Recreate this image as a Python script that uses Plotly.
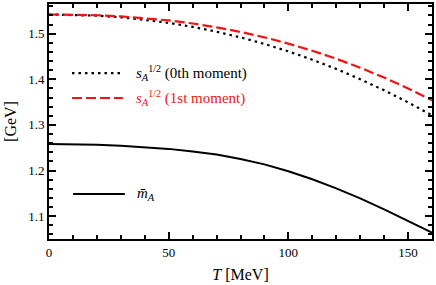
import plotly.graph_objects as go

# Data
T = [0, 10, 20, 30, 40, 50, 60, 70, 80, 90, 100, 110, 120, 130, 140, 150, 160]
s0 = [1.542, 1.5414, 1.5394, 1.5359, 1.5306, 1.5237, 1.5149, 1.5043, 1.4919, 1.4775,
      1.4612, 1.4429, 1.4226, 1.4003, 1.3759, 1.3495, 1.321]
s1 = [1.542, 1.5417, 1.5404, 1.5380, 1.5343, 1.5290, 1.5223, 1.5139, 1.5038, 1.4920,
      1.4782, 1.4626, 1.4450, 1.4254, 1.4037, 1.3799, 1.354]
mA = [1.258, 1.2577, 1.2565, 1.2545, 1.2515, 1.2475, 1.242, 1.235, 1.2255, 1.2135,
      1.1985, 1.181, 1.161, 1.139, 1.115, 1.090, 1.064]

names = ["<i>s</i><sub><i>A</i></sub><sup><span style='font-size:10px'>1/2</span></sup> (0th moment)",
         "<i>s</i><sub><i>A</i></sub><sup><span style='font-size:10px'>1/2</span></sup> (1st moment)",
         "<i>m\u0304</i><sub><i>A</i></sub>"]
colors = ["black", "#f01414", "black"]
dashes = ["2.5px,4px", "10px,4px", "solid"]
widths = [2.2, 2.2, 2.0]
series = [s0, s1, mA]

FONT = "Liberation Serif, Times New Roman, DejaVu Serif, serif"

fig = go.Figure()
for ys, nm, c, d, w in zip(series, names, colors, dashes, widths):
    fig.add_trace(go.Scatter(x=T, y=ys, mode="lines", name=nm, showlegend=False,
                             line=dict(color=c, width=w, dash=d)))

# Manual legend (key lines + labels) in paper coordinates
leg_y = [0.706, 0.600, 0.191]
leg_x0 = [0.060, 0.060, 0.063]
leg_x1 = [0.193, 0.193, 0.198]
leg_tx = [0.222, 0.222, 0.2245]
for i in range(3):
    fig.add_shape(type="line", xref="paper", yref="paper", opacity=1,
                  x0=leg_x0[i], x1=leg_x1[i], y0=leg_y[i], y1=leg_y[i],
                  line=dict(color=colors[i], width=widths[i], dash=dashes[i]))
    fig.add_annotation(xref="paper", yref="paper", x=leg_tx[i], y=leg_y[i],
                       xanchor="left", yanchor="middle", showarrow=False,
                       text=names[i], font=dict(family=FONT, size=15, color=colors[i]))

axis_common = dict(showline=True, linecolor="black", linewidth=2, mirror="allticks",
                   ticks="inside", ticklen=7, tickwidth=2, tickcolor="#000000",
                   showgrid=False, zeroline=False,
                   tickfont=dict(family=FONT, size=13, color="black"))

fig.update_layout(
    width=436, height=285,
    margin=dict(l=49, r=4, t=4, b=46, autoexpand=False),
    plot_bgcolor="rgba(0,0,0,0)", paper_bgcolor="white",
    font=dict(family=FONT, size=13, color="black"),
    showlegend=False,
    xaxis=dict(range=[0, 160], tickmode="linear", tick0=0, dtick=50,
               minor=dict(dtick=10, tick0=0, ticks="inside", ticklen=4, tickwidth=2,
                          tickcolor="#000000", showgrid=False),
               title=dict(text="<i>T</i> [MeV]", font=dict(family=FONT, size=16), standoff=10),
               **axis_common),
    yaxis=dict(range=[1.05, 1.565], tickmode="linear", tick0=1.0, dtick=0.1,
               tickformat=".1f",
               minor=dict(dtick=0.02, tick0=1.0, ticks="inside", ticklen=4, tickwidth=2,
                          tickcolor="#000000", showgrid=False),
               title=dict(text="[GeV]", font=dict(family=FONT, size=16), standoff=8),
               **axis_common),
)

fig.write_html("out.html", config={"displayModeBar": False},
               post_script="document.body.style.margin='0';")
